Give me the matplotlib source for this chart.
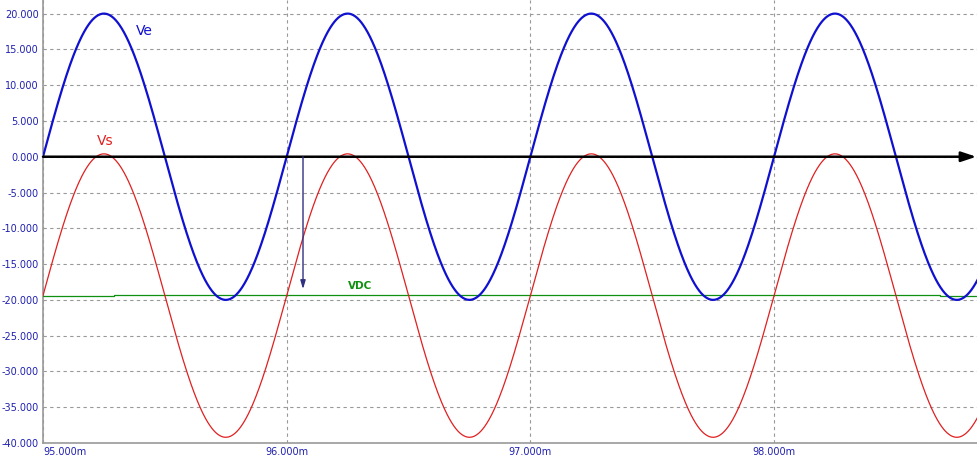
import matplotlib
matplotlib.use('Agg')
import matplotlib.pyplot as plt
import numpy as np

# signal parameters (time in ms, volts)
ve_amp = 20.0
ve_offset = 0.0
vs_amp = 19.8
vs_offset = -19.4
freq_khz = 1.0
phase_ms = 95.0          # Ve rising zero crossing

# VDC ripple: step times and levels
vdc_t = [95.0, 95.29, 96.30, 97.29, 98.30, 98.68, 98.84]
vdc_v = [-19.45, -19.3, -19.3, -19.3, -19.3, -19.45, -19.45]

# marker arrow (time, top, bottom)
marker_t = 96.067
marker_y = [0.0, -18.5]

x_ticks = [95.0, 96.0, 97.0, 98.0]
y_ticks = [20, 15, 10, 5, 0, -5, -10, -15, -20, -25, -30, -35, -40]

xmin, xmax = 95.0, 98.837
ymin, ymax = -40.0, 21.9

t = np.linspace(xmin, xmax, 2000)
ve = ve_offset + ve_amp*np.sin(2*np.pi*freq_khz*(t-phase_ms))
vs = vs_offset + vs_amp*np.sin(2*np.pi*freq_khz*(t-phase_ms))

fig = plt.figure(figsize=(9.78, 4.57), dpi=100)
ax = fig.add_axes([43/978., 14/457., 1-43/978., 1-14/457.])

ax.set_xlim(xmin, xmax)
ax.set_ylim(ymin, ymax)

ax.plot(t, ve, color='#1010d0', lw=1.6, zorder=4)
ax.plot(t, vs, color='#e02020', lw=0.9, zorder=4)
ax.step(vdc_t, vdc_v, where='post', color='#109010', lw=0.9, zorder=3)

# zero axis with arrow head
ax.annotate('', xy=(98.83, 0), xytext=(xmin, 0),
            arrowprops=dict(arrowstyle='-|>,head_length=0.9,head_width=0.3',
                            color='black', lw=1.8, shrinkA=0, shrinkB=0),
            zorder=5)
# cursor arrow
ax.annotate('', xy=(marker_t, marker_y[1]), xytext=(marker_t, marker_y[0]),
            arrowprops=dict(arrowstyle='-|>,head_length=0.5,head_width=0.15',
                            color='#303080', lw=1.0, shrinkA=0, shrinkB=0),
            zorder=5)

ax.text(95.38, 17.6, 'Ve', color='#1010d0', fontsize=10, ha='left', va='center')
ax.text(95.22, 2.2, 'Vs', color='#e02020', fontsize=10, ha='left', va='center')
ax.text(96.25, -18.1, 'VDC', color='#109010', fontsize=7.5, weight='bold',
        ha='left', va='center')

ax.set_xticks(x_ticks)
ax.set_xticklabels(['%.3fm' % v for v in x_ticks])
ax.set_yticks(y_ticks)
ax.set_yticklabels(['%.3f' % v for v in y_ticks])
ax.tick_params(length=0, labelsize=7, labelcolor='#2020b0', pad=3)
ax.get_xticklabels()[0].set_ha('left')

ax.grid(True, color='#999999', ls=(0, (3, 3)), lw=0.8)
for s in ['top', 'right']:
    ax.spines[s].set_visible(False)
for s in ['left', 'bottom']:
    ax.spines[s].set_color('#999999')
    ax.spines[s].set_linewidth(1.2)

fig.savefig('out.png', dpi=100)
